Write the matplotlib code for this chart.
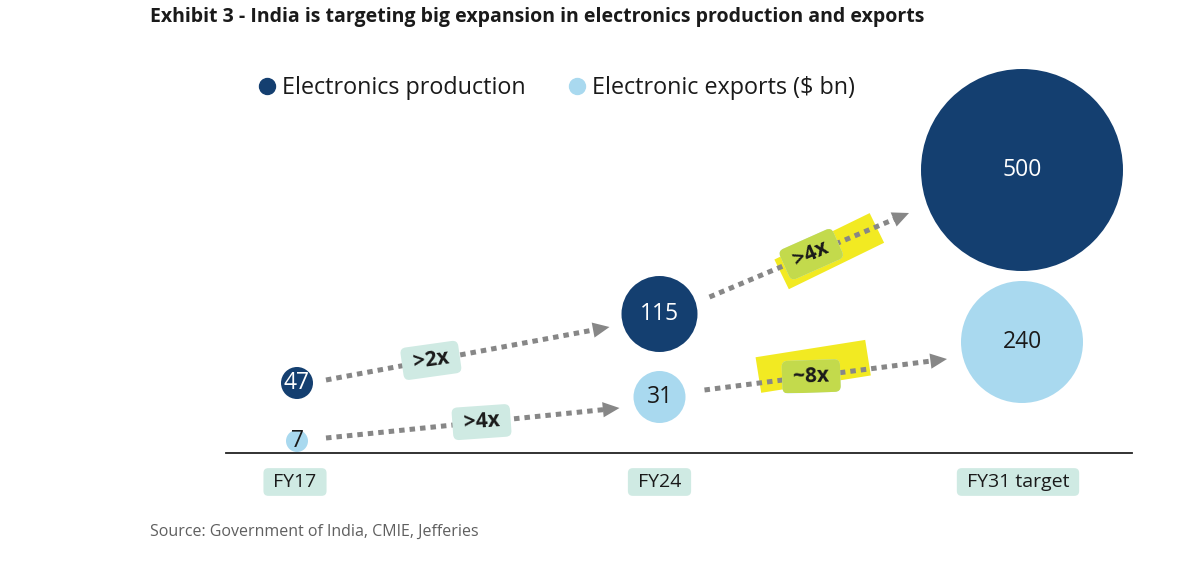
import matplotlib
matplotlib.use('Agg')
import matplotlib.pyplot as plt
import matplotlib.patches as mpatches
import matplotlib.transforms as mtransforms
from matplotlib.lines import Line2D

plt.rcParams['font.family'] = ['Open Sans', 'DejaVu Sans']

# data
periods = ['FY17', 'FY24', 'FY31 target']
production = [47, 115, 500]
exports = [7, 31, 240]
prod_growth = ['>2x', '>4x']
exp_growth = ['>4x', '~8x']

# layout, in pixels (heights above the baseline)
prod_height = [70, 139, 283]
exp_height = [12, 56, 111]
prod_radius = [16, 38, 101]
exp_radius = [11, 26, 61]
period_shift = [-2, 0, -4]
# arrow offsets from source / target bubble centres: (sdx, sdy, edx, edy)
prod_arrow_off = [(29, 3, -50, -13), (50, 17, -113, -43)]
exp_arrow_off = [(29, 3, -40, -11), (45, 7, -75, -17)]
prod_label_t = [0.37, 0.51]
exp_label_t = [0.53, 0.44]
prod_label_rot = [8, 24]
exp_label_rot = [4, 2]
# yellow highlight: None or (dx, dy, w, h, angle)
prod_highlight = [None, (18, 3, 106, 33, 26)]
exp_highlight = [None, (2, 10, 111, 36, 9)]

dark = '#143f70'
light = '#a9d9ef'
teal = '#cfeae3'
yellow = '#f2ea22'
green = '#c3da4c'
grey = '#878787'
ink = '#1a1a1a'

fig = plt.figure(figsize=(11.99, 5.74), dpi=100)
W, H = 1199, 574
ax = fig.add_axes([226 / W, (H - 453) / H, 906 / W, (453 - 60) / H])
ax.set_xlim(-71 / 362.5, 2 + 110 / 362.5)
ax.set_ylim(0, 393)
for s in ['top', 'left', 'right']:
    ax.spines[s].set_visible(False)
ax.spines['bottom'].set_color('#222222')
ax.spines['bottom'].set_linewidth(1.3)
ax.set_xticks([])
ax.set_yticks([])

xs = list(range(len(periods)))


def size(r):
    return (2 * r * 72 / fig.dpi) ** 2


ax.scatter(xs, prod_height, s=[size(r) for r in prod_radius], color=dark,
           edgecolors='none', zorder=3)
ax.scatter(xs, exp_height, s=[size(r) for r in exp_radius], color=light,
           edgecolors='none', zorder=3)
for x, y, v in zip(xs, prod_height, production):
    ax.text(x, y, str(v), ha='center', va='center', fontsize=16.5,
            color='white', zorder=4)
for x, y, v in zip(xs, exp_height, exports):
    ax.text(x, y, str(v), ha='center', va='center', fontsize=16.5,
            color=ink, zorder=4)

for i, lab in enumerate(periods):
    ax.text(i + period_shift[i] / 362.5, -29, ' ' + lab + ' ', ha='center',
            va='center', fontsize=14, color=ink,
            bbox=dict(boxstyle='round,pad=0.25,rounding_size=0.25', fc=teal, ec='none'))

to_disp = ax.transData.transform
to_data = ax.transData.inverted().transform


def draw_arrows(heights, radius, offs, labels, ts, rots, highs):
    for i in range(len(labels)):
        src = to_disp((xs[i], heights[i]))
        tgt = to_disp((xs[i + 1], heights[i + 1]))
        sdx, sdy, edx, edy = offs[i]
        p0 = (src[0] + sdx, src[1] + sdy)
        p1 = (tgt[0] + edx, tgt[1] + edy)
        dx, dy = p1[0] - p0[0], p1[1] - p0[1]
        ln = (dx ** 2 + dy ** 2) ** 0.5
        hb = (p1[0] - dx / ln * 15, p1[1] - dy / ln * 15)
        d0, dh, d1 = to_data(p0), to_data(hb), to_data(p1)
        ax.plot([d0[0], dh[0]], [d0[1], dh[1]], color=grey, lw=3.6,
                linestyle=(0, (1.1, 1.0)), dash_capstyle='butt', zorder=3)
        ax.annotate('', xy=d1, xytext=dh,
                    arrowprops=dict(arrowstyle='-|>,head_length=1.2,head_width=0.55',
                                    fc=grey, ec=grey, lw=0, shrinkA=0, shrinkB=0),
                    zorder=3)
        t = ts[i]
        c = (p0[0] + dx * t, p0[1] + dy * t)
        cd = to_data(c)
        txt = ' ' + labels[i] + ' '
        kw = dict(ha='center', va='center', fontsize=15, fontweight='bold',
                  rotation=rots[i], rotation_mode='anchor')
        ax.text(cd[0], cd[1], txt, color=ink, zorder=4,
                bbox=dict(boxstyle='round,pad=0.28', fc=teal, ec='none'), **kw)
        if highs[i] is not None:
            hx, hy, hw, hh, ha = highs[i]
            tr = mtransforms.Affine2D().rotate_deg(ha).translate(c[0] + hx, c[1] + hy)
            rect = mpatches.Rectangle((-hw / 2, -hh / 2), hw, hh, fc=yellow,
                                      ec='none', transform=tr, zorder=2)
            ax.add_artist(rect)
            ov = ax.text(cd[0], cd[1], txt, color='none', zorder=5, clip_on=True,
                         bbox=dict(boxstyle='round,pad=0.28', fc=green, ec='none'), **kw)
            ov.set_clip_path(rect)
            ov.set_clip_on(True)
            ax.text(cd[0], cd[1], txt, color=ink, zorder=6, **kw)


draw_arrows(prod_height, prod_radius, prod_arrow_off, prod_growth,
            prod_label_t, prod_label_rot, prod_highlight)
draw_arrows(exp_height, exp_radius, exp_arrow_off, exp_growth,
            exp_label_t, exp_label_rot, exp_highlight)

handles = [Line2D([], [], ls='none', marker='o', markersize=11.5, color=dark),
           Line2D([], [], ls='none', marker='o', markersize=11.5, color=light)]
fig.legend(handles, ['Electronics production', 'Electronic exports ($ bn)'],
           loc='center left', bbox_to_anchor=(259 / W, 1 - 88 / H), ncol=2,
           frameon=False, fontsize=16.8, handlelength=0.7, handletextpad=0.3,
           columnspacing=1.85, borderaxespad=0, borderpad=0, labelcolor=ink)

fig.text(150 / W, 1 - 17 / H,
         'Exhibit 3 - India is targeting big expansion in electronics production and exports',
         fontsize=14, fontweight='bold', color=ink, va='center')
fig.text(150 / W, 1 - 532 / H, 'Source: Government of India, CMIE, Jefferies',
         fontsize=11.5, color='#5f5f5f', va='center')

fig.savefig('out.png', dpi=100)
